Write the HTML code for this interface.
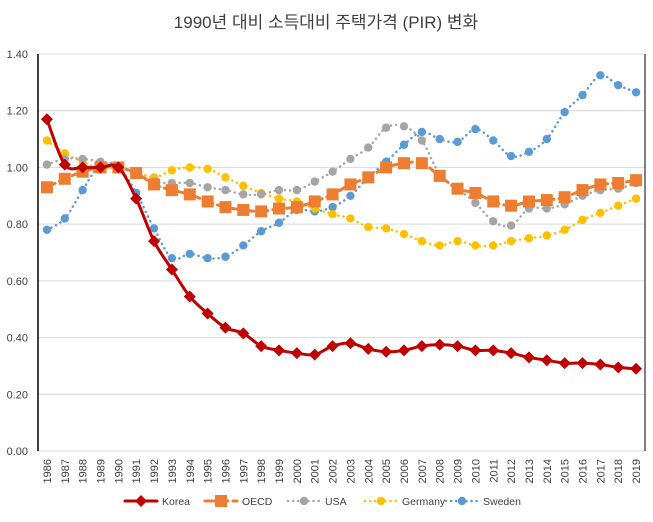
<!DOCTYPE html>
<html><head><meta charset="utf-8"><style>
body{margin:0;background:#fff}
svg text{font-family:"Liberation Sans","Noto Sans CJK KR",sans-serif}
</style></head><body>
<svg id="c" width="653" height="517" xmlns="http://www.w3.org/2000/svg">
<text x="326" y="28" text-anchor="middle" font-size="17" fill="#404040">1990년 대비 소득대비 주택가격 (PIR) 변화</text>
<g id="grid"></g><g id="series"></g><g id="legend"></g>
</svg>
<script>
const years=[];for(let y=1986;y<=2019;y++)years.push(y);
const yTicks=[0,0.2,0.4,0.6,0.8,1.0,1.2,1.4];
const korea=[1.17,1.01,1.00,1.00,1.00,0.89,0.74,0.64,0.545,0.485,0.435,0.415,0.37,0.355,0.345,0.34,0.37,0.38,0.36,0.35,0.355,0.37,0.375,0.37,0.355,0.355,0.345,0.33,0.32,0.31,0.31,0.305,0.295,0.29];
const oecd=[0.93,0.96,0.985,1.00,1.00,0.98,0.94,0.92,0.905,0.88,0.86,0.85,0.845,0.855,0.86,0.88,0.905,0.94,0.965,1.00,1.015,1.015,0.97,0.925,0.91,0.88,0.865,0.88,0.885,0.895,0.92,0.94,0.945,0.955];
const usa=[1.01,1.03,1.03,1.02,1.00,0.98,0.95,0.945,0.945,0.93,0.92,0.905,0.905,0.92,0.92,0.95,0.985,1.03,1.07,1.14,1.145,1.095,0.975,0.925,0.875,0.81,0.795,0.855,0.855,0.87,0.90,0.92,0.925,0.945];
const germany=[1.095,1.05,1.02,0.995,1.00,0.985,0.965,0.99,1.00,0.995,0.965,0.935,0.91,0.89,0.88,0.855,0.835,0.82,0.79,0.785,0.765,0.74,0.725,0.74,0.725,0.725,0.74,0.75,0.76,0.78,0.815,0.84,0.865,0.89];
const sweden=[0.78,0.82,0.92,1.01,1.00,0.91,0.785,0.68,0.695,0.68,0.685,0.725,0.775,0.805,0.85,0.845,0.86,0.90,0.965,1.02,1.08,1.125,1.10,1.09,1.135,1.095,1.04,1.055,1.10,1.195,1.255,1.325,1.29,1.265];
const NS="http://www.w3.org/2000/svg";
const X0=38,X1=645,Y0=451,Y1=54;
const step=(X1-X0)/years.length;
const xs=i=>X0+step*(i+0.5);
const ys=v=>Y0-(v/1.4)*(Y0-Y1);
function el(t,a,p){const e=document.createElementNS(NS,t);for(const k in a)e.setAttribute(k,a[k]);p.appendChild(e);return e;}
const grid=document.getElementById('grid');
yTicks.forEach(v=>{
 const l=el('line',{x1:X0,x2:X1,y1:ys(v),y2:ys(v),stroke:'#d9d9d9','stroke-width':1},grid);
 
 
 const t=el('text',{x:X0-10,y:ys(v)+4,'text-anchor':'end','font-size':'11',fill:'#404040'},grid);
 t.textContent=v.toFixed(2);
 
 
});
const ax=el('line',{x1:X0,x2:X0,y1:Y1,y2:Y0,stroke:'#000','stroke-width':1.5},grid);


const rx=el('line',{x1:X1,x2:X1,y1:Y1,y2:Y0,stroke:'#000','stroke-width':1},grid);


years.forEach((y,i)=>{
 const t=el('text',{x:0,y:0,'text-anchor':'end','font-size':'11',fill:'#404040',transform:`translate(${xs(i)+4},459) rotate(-90)`},grid);
 t.textContent=y;
 
 
});
function smooth(pts){let d=`M${pts[0][0]},${pts[0][1]}`;for(let i=0;i<pts.length-1;i++){const p0=pts[i-1]||pts[i],p1=pts[i],p2=pts[i+1],p3=pts[i+2]||p2;const t=1/6;d+=` C${p1[0]+(p2[0]-p0[0])*t},${p1[1]+(p2[1]-p0[1])*t} ${p2[0]-(p3[0]-p1[0])*t},${p2[1]-(p3[1]-p1[1])*t} ${p2[0]},${p2[1]}`;}return d;}
const defs=[
 {name:'Korea',data:korea,color:'#c00000',w:3,dash:'',marker:'diamond'},
 {name:'OECD',data:oecd,color:'#ed7d31',w:3,dash:'9,5',marker:'square'},
 {name:'USA',data:usa,color:'#a5a5a5',w:2.5,dash:'0.1,5',marker:'circle'},
 {name:'Germany',data:germany,color:'#ffc000',w:2.5,dash:'0.1,5',marker:'circle'},
 {name:'Sweden',data:sweden,color:'#5b9bd5',w:2.5,dash:'0.1,5',marker:'circle'}];
const sg=document.getElementById('series');
function marker(type,x,y,c,g){
 if(type==='diamond')return el('path',{d:`M${x},${y-6}L${x+6},${y}L${x},${y+6}L${x-6},${y}Z`,fill:c},g);
 if(type==='square')return el('rect',{x:x-6,y:y-6,width:12,height:12,fill:c},g);
 return el('circle',{cx:x,cy:y,r:4.2,fill:c},g);
}
const order=[4,3,2,1,0];
order.forEach(k=>{const s=defs[k];
 const g=el('g',{},sg);
 
 
 const pts=s.data.map((v,i)=>[xs(i),ys(v)]);
 el('path',{d:smooth(pts),fill:'none',stroke:s.color,'stroke-width':s.w,'stroke-dasharray':s.dash,'stroke-linecap':'round'},g);
 pts.forEach(p=>{const m=marker(s.marker,p[0],p[1],s.color,g);
  
  });
});
const lg=document.getElementById('legend');
const lx=[125,205,288,365,446];
defs.forEach((s,i)=>{
 const g=el('g',{},lg);
 
 
 const x=lx[i],y=501;
 el('line',{x1:x,x2:x+32,y1:y,y2:y,stroke:s.color,'stroke-width':s.w,'stroke-dasharray':s.dash,'stroke-linecap':'round'},g);
 marker(s.marker,x+16,y,s.color,g);
 const t=el('text',{x:x+37,y:y+4,'font-size':'10.5',fill:'#404040'},g);t.textContent=s.name;
});
</script>
</body></html>
